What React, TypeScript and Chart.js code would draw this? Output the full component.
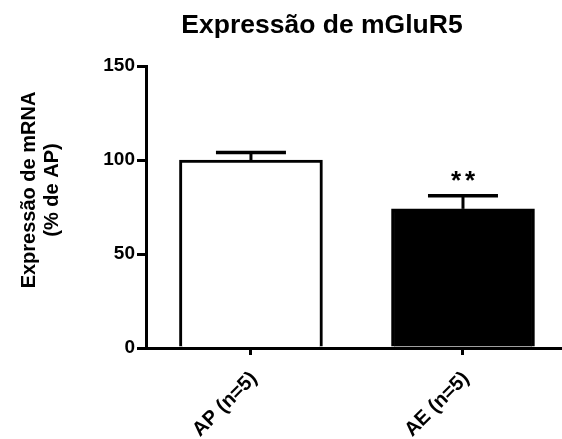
import React, { useEffect, useRef } from 'react';
import { Chart, registerables } from 'chart.js';

Chart.register(...registerables);

const categories = ['AP (n=5)', 'AE (n=5)'];
const means = [100, 74];
const sems = [4, 7];
const significance = ['', '**'];
const yTicks = [0, 50, 100, 150];
const barFill = ['#ffffff', '#000000'];
const chartTitle = 'Expressão de mGluR5';
const yTitleLines = ['Expressão de mRNA', '(% de AP)'];

const FONT = '"Liberation Sans", Arial, Helvetica, sans-serif';

export default function App() {
  const ref = useRef<HTMLCanvasElement>(null);

  useEffect(() => {
    const canvas = ref.current!;
    const annot = {
      id: 'annot',
      afterDatasetsDraw(chart: any) {
        const ctx = chart.ctx;
        const meta = chart.getDatasetMeta(0);
        const y = chart.scales.y;
        ctx.save();
        ctx.strokeStyle = '#000';
        ctx.fillStyle = '#000';
        meta.data.forEach((bar: any, i: number) => {
          const top = y.getPixelForValue(means[i] + sems[i]);
          const base = y.getPixelForValue(means[i]);
          ctx.lineWidth = 3;
          ctx.beginPath();
          ctx.moveTo(bar.x, base);
          ctx.lineTo(bar.x, top);
          ctx.stroke();
          ctx.lineWidth = 3.5;
          ctx.beginPath();
          ctx.moveTo(bar.x - 35, top);
          ctx.lineTo(bar.x + 35, top);
          ctx.stroke();
          const sig = significance[i];
          if (sig) {
            ctx.font = `bold 26px ${FONT}`;
            ctx.textAlign = 'center';
            ctx.textBaseline = 'alphabetic';
            const n = sig.length;
            for (let k = 0; k < n; k++) {
              const cx = bar.x + (k - (n - 1) / 2) * 14;
              ctx.fillText(sig[k], cx, top - 7);
            }
          }
        });
        ctx.restore();
      },
      afterDraw(chart: any) {
        const ctx = chart.ctx;
        ctx.save();
        ctx.fillStyle = '#000';
        ctx.font = `bold 26.5px ${FONT}`;
        ctx.textAlign = 'center';
        ctx.textBaseline = 'alphabetic';
        ctx.fillText(chartTitle, 322, 33);

        ctx.font = `bold 20px ${FONT}`;
        yTitleLines.forEach((line, i) => {
          ctx.save();
          ctx.translate(35 + i * 23, 190);
          ctx.rotate(-Math.PI / 2);
          ctx.fillText(line, 0, 0);
          ctx.restore();
        });
        ctx.restore();
      },
    };

    const chart = new Chart(canvas, {
      type: 'bar',
      data: {
        datasets: [
          {
            data: means.map((v, i) => ({ x: i + 1, y: v })),
            backgroundColor: barFill,
            borderColor: '#000000',
            borderWidth: 3,
            borderSkipped: 'start',
            barThickness: 143,
          },
        ],
      },
      options: {
        responsive: false,
        animation: false,
        layout: { padding: { top: 66, left: 0, right: 0, bottom: 0 } },
        plugins: {
          legend: { display: false },
          tooltip: { enabled: false },
          title: { display: false },
        },
        scales: {
          x: {
            type: 'linear',
            offset: false,
            min: 0.505,
            max: 2.467,
            afterBuildTicks: (s: any) => {
              s.ticks = categories.map((_, i) => ({ value: i + 1 }));
            },
            afterFit: (s: any) => {
              s.height = 91;
            },
            grid: {
              offset: false,
              drawOnChartArea: false,
              drawTicks: true,
              tickLength: 7,
              color: '#000',
              lineWidth: 3,
            },
            border: { display: true, color: '#000', width: 3 },
            ticks: {
              autoSkip: false,
              callback: (v: any) => categories[Number(v) - 1] ?? '',
              minRotation: 45,
              maxRotation: 45,
              font: { family: FONT, size: 20, weight: 'bold' },
              color: '#000',
              padding: 12,
              labelOffset: 3,
            },
          },
          y: {
            min: 0,
            max: 150,
            afterBuildTicks: (s: any) => {
              s.ticks = yTicks.map((v) => ({ value: v }));
            },
            afterFit: (s: any) => {
              s.width = 146;
            },
            grid: {
              drawOnChartArea: false,
              drawTicks: true,
              tickLength: 9,
              color: '#000',
              lineWidth: 3,
            },
            border: { display: true, color: '#000', width: 3 },
            ticks: {
              font: { family: FONT, size: 19, weight: 'bold' },
              color: '#000',
              padding: 2,
            },
          },
        },
      },
      plugins: [annot],
    } as any);

    return () => chart.destroy();
  }, []);

  return (
    <div style={{ position: 'fixed', left: 0, top: 0, width: 562, height: 439, background: '#fff' }}>
      <canvas ref={ref} width={562} height={439} style={{ display: 'block' }} />
    </div>
  );
}
